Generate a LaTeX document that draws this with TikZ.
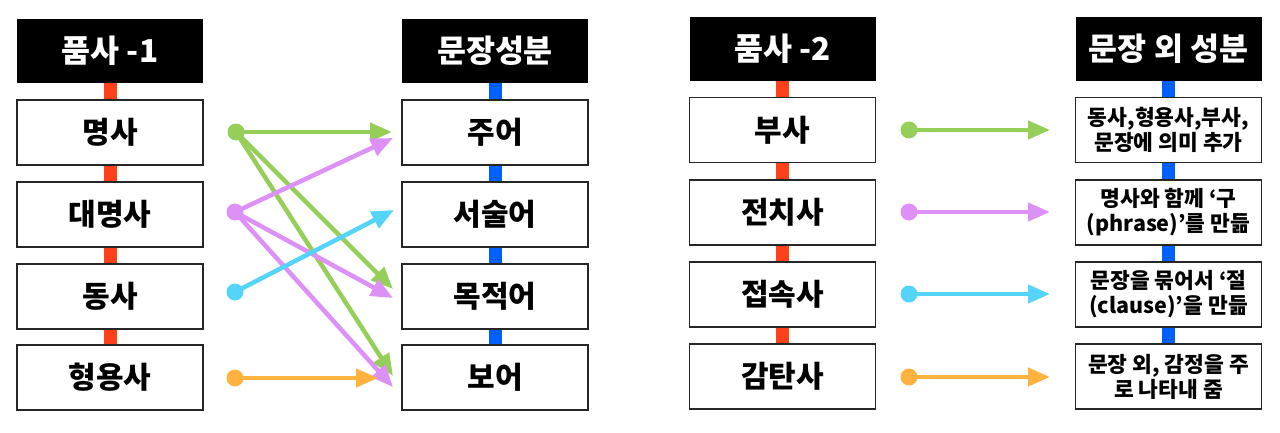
\documentclass[tikz,border=0pt]{standalone}
\usepackage{fontspec}
\setmainfont{Noto Sans CJK KR}
\usetikzlibrary{arrows.meta}
\definecolor{cgreen}{RGB}{150,206,90}
\definecolor{cpurple}{RGB}{221,145,247}
\definecolor{ccyan}{RGB}{85,212,250}
\definecolor{corange}{RGB}{255,178,62}
\definecolor{cred}{RGB}{255,64,26}
\definecolor{cblue}{RGB}{0,96,255}
\tikzset{
  x=1pt, y=-1pt,
  hdr/.style={fill=black, text=white, minimum width=186pt, minimum height=64pt, inner sep=0pt,
    font=\fontsize{31.5}{36}\selectfont\bfseries},
  wbox/.style={draw=black!85, line width=1.3pt, fill=white, minimum width=186pt, minimum height=65pt,
    inner sep=0pt, font=\fontsize{30}{34}\selectfont\bfseries},
  dbox/.style={wbox, align=center, font=\fontsize{21.5}{25}\selectfont\bfseries},
  rstrip/.style={draw=cred, line width=13pt},
  bstrip/.style={draw=cblue, line width=13pt},
  dot/.style={circle, fill=#1, minimum size=17pt, inner sep=0pt},
  arr/.style={draw=#1, line width=4.5pt, -{Triangle[length=22pt,width=18pt]}},
}
\begin{document}
\begin{tikzpicture}
\useasboundingbox (0,0) rectangle (1280,432);
% ---------- left half ----------
\node[hdr] (ha) at (110,51) {품사 -1};
\node[wbox] (a1) at (110,132.5) {명사};
\node[wbox] (a2) at (110,214.5) {대명사};
\node[wbox] (a3) at (110,296.5) {동사};
\node[wbox] (a4) at (110,377.5) {형용사};
\node[hdr] (hb) at (495,51) {문장성분};
\node[wbox] (b1) at (495,132.5) {주어};
\node[wbox] (b2) at (495,214.5) {서술어};
\node[wbox] (b3) at (495,296.5) {목적어};
\node[wbox] (b4) at (495,377.5) {보어};
\draw[rstrip] (ha.south) -- (a1.north);
\draw[rstrip] (a1.south) -- (a2.north);
\draw[rstrip] (a2.south) -- (a3.north);
\draw[rstrip] (a3.south) -- (a4.north);
\draw[bstrip] (hb.south) -- (b1.north);
\draw[bstrip] (b1.south) -- (b2.north);
\draw[bstrip] (b2.south) -- (b3.north);
\draw[bstrip] (b3.south) -- (b4.north);
% ---------- right half ----------
\node[hdr] (hc) at (782.5,48.5) {품사 -2};
\node[wbox] (c1) at (782.5,130) {부사};
\node[wbox] (c2) at (782.5,212.5) {전치사};
\node[wbox] (c3) at (782.5,294.5) {접속사};
\node[wbox] (c4) at (782.5,376.5) {감탄사};
\node[hdr] (hd) at (1168.5,48.5) {문장 외 성분};
\node[dbox] (d1) at (1168.5,130) {동사,형용사,부사,\\문장에 의미 추가};
\node[dbox] (d2) at (1168.5,212.5) {명사와 함께 ‘구\\(phrase)’를 만듦};
\node[dbox] (d3) at (1168.5,294.5) {문장을 묶어서 ‘절\\(clause)’을 만듦};
\node[dbox] (d4) at (1168.5,376.5) {문장 외, 감정을 주\\로 나타내 줌};
\draw[rstrip] (hc.south) -- (c1.north);
\draw[rstrip] (c1.south) -- (c2.north);
\draw[rstrip] (c2.south) -- (c3.north);
\draw[rstrip] (c3.south) -- (c4.north);
\draw[bstrip] (hd.south) -- (d1.north);
\draw[bstrip] (d1.south) -- (d2.north);
\draw[bstrip] (d2.south) -- (d3.north);
\draw[bstrip] (d3.south) -- (d4.north);
% ---------- left arrows ----------
\node[dot=cgreen] (g) at (236,132) {};
\node[dot=cpurple] (p) at (235,212) {};
\node[dot=ccyan] (c) at (235,292) {};
\node[dot=corange] (o) at (235,378) {};
\coordinate (tg1) at (392,132);
\coordinate (tg2) at (393,289);
\coordinate (tg3) at (393,376);
\coordinate (tp1) at (393,138);
\coordinate (tp2) at (393,298);
\coordinate (tp3) at (393,387);
\coordinate (tc) at (394,210);
\coordinate (to) at (378,378);
\draw[arr=cgreen] (g.center) -- (tg1);
\draw[arr=cgreen] (g.center) -- (tg2);
\draw[arr=cgreen] (g.center) -- (tg3);
\draw[arr=cpurple] (p.center) -- (tp1);
\draw[arr=cpurple] (p.center) -- (tp2);
\draw[arr=cpurple] (p.center) -- (tp3);
\draw[arr=ccyan] (c.center) -- (tc);
\draw[arr=corange] (o.center) -- (to);
% ---------- right arrows ----------
\node[dot=cgreen] (rg) at (909,130) {};
\node[dot=cpurple] (rp) at (909,212) {};
\node[dot=ccyan] (rc) at (909,294) {};
\node[dot=corange] (ro) at (909,377) {};
\coordinate (trg) at (1050,130);
\coordinate (trp) at (1050,212);
\coordinate (trc) at (1050,294);
\coordinate (tro) at (1050,377);
\draw[arr=cgreen] (rg.center) -- (trg);
\draw[arr=cpurple] (rp.center) -- (trp);
\draw[arr=ccyan] (rc.center) -- (trc);
\draw[arr=corange] (ro.center) -- (tro);
\end{tikzpicture}
\end{document}
